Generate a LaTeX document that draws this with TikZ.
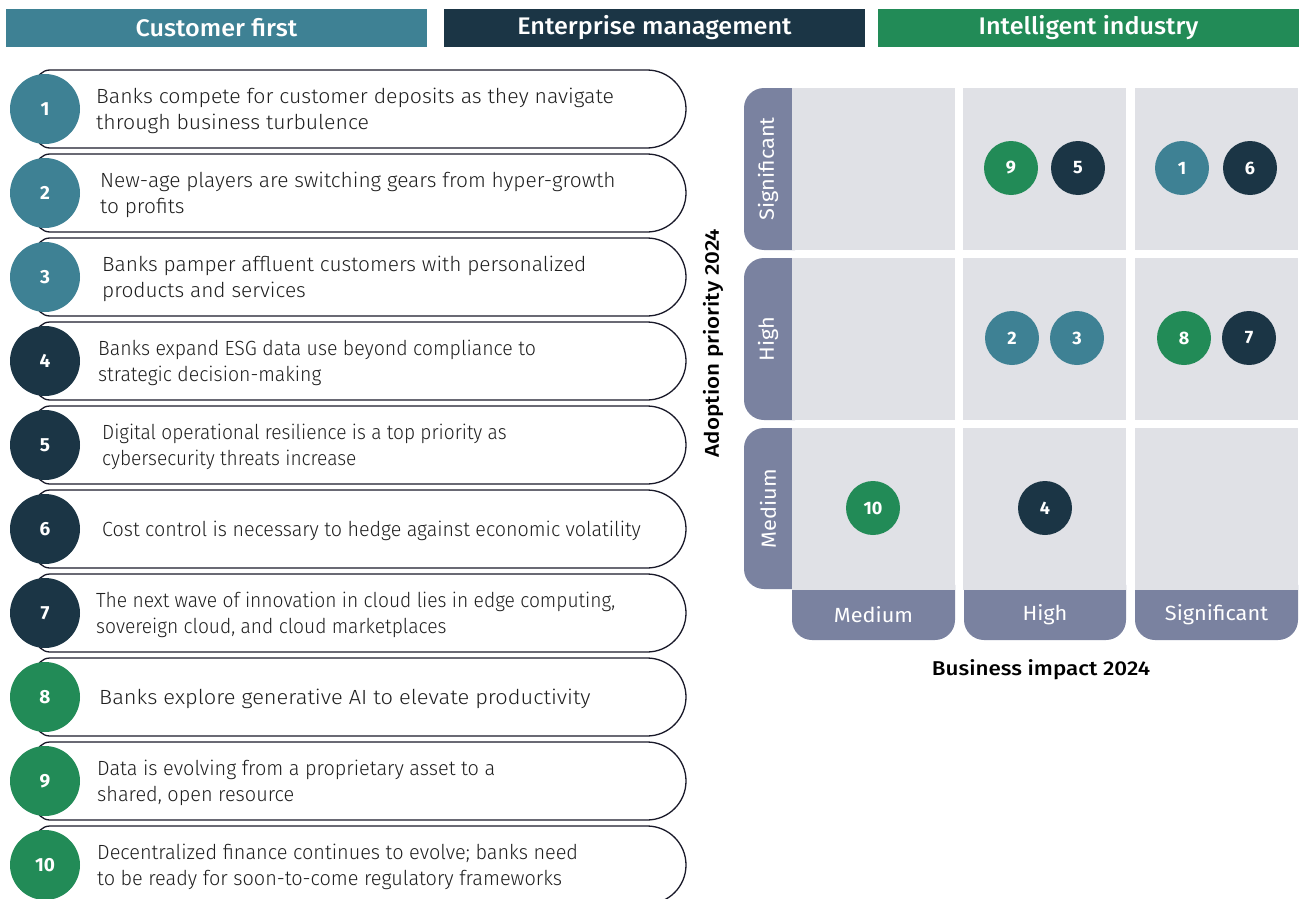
\documentclass[tikz,border=0pt]{standalone}
\usepackage{fontspec}
\setmainfont{Fira Sans}
\newfontfamily\lightfont{Fira Sans Light}
\newfontfamily\medfont{Fira Sans Medium}
\newcommand{\hsc}[2]{\scalebox{#1}[1]{#2}}
\newcommand{\lns}[1]{\begin{tabular}{@{}l@{}}#1\end{tabular}}
\definecolor{teal}{HTML}{3E8194}
\definecolor{navy}{HTML}{1B3545}
\definecolor{grn}{HTML}{228B57}
\definecolor{tabc}{HTML}{7A82A0}
\definecolor{cellc}{HTML}{E0E1E6}
\definecolor{pillc}{HTML}{1A1A2A}
\tikzset{
  hdr/.style={minimum width=421pt, minimum height=38pt, inner sep=0pt, text=white, font=\medfont\fontsize{24}{28}\selectfont},
  numc/.style={circle, minimum size=70pt, inner sep=0pt, text=white, font=\bfseries\fontsize{19}{22}\selectfont},
  itemtext/.style={anchor=west, align=left, inner sep=0pt, font=\lightfont\fontsize{20.5}{26}\selectfont, text=black!88},
  pill/.style={draw=pillc, line width=1.3pt, fill=white},
  cell/.style={fill=cellc, minimum width=163pt, minimum height=162pt, inner sep=0pt},
  tablbl/.style={text=white, font=\fontsize{20.5}{24}\selectfont, inner sep=0pt},
  bub/.style={circle, minimum size=54pt, inner sep=0pt, text=white, font=\bfseries\fontsize{18}{20}\selectfont},
  axis/.style={font=\medfont\fontsize{20}{24}\selectfont, text=black, inner sep=0pt}
}
\begin{document}
\begin{tikzpicture}[x=1pt,y=-1pt]
\useasboundingbox (0,0) rectangle (1301,899);
% headers
\node[hdr, fill=teal] (h1) at (216.5,28) {\hsc{1.05}{Customer first}};
\node[hdr, fill=navy] (h2) at (654.5,28) {\hsc{1.05}{Enterprise management}};
\node[hdr, fill=grn] (h3) at (1088.5,28) {\hsc{1.05}{Intelligent industry}};
% list items
\foreach \i/\col/\tx/\sx/\txt in {
 1/teal/96/1.037/{Banks compete for customer deposits as they navigate\\through business turbulence},
 2/teal/100/1.018/{New-age players are switching gears from hyper-growth\\to profits},
 3/teal/102/1.018/{Banks pamper affluent customers with personalized\\products and services},
 4/navy/98/0.951/{Banks expand ESG data use beyond compliance to\\strategic decision-making},
 5/navy/102/0.932/{Digital operational resilience is a top priority as\\cybersecurity threats increase},
 6/navy/102/0.96/{Cost control is necessary to hedge against economic volatility},
 7/navy/96/0.937/{The next wave of innovation in cloud lies in edge computing,\\sovereign cloud, and cloud marketplaces},
 8/grn/99/1.065/{Banks explore generative AI to elevate productivity},
 9/grn/97/0.97/{Data is evolving from a proprietary asset to a\\shared, open resource},
 10/grn/97/0.97/{Decentralized finance continues to evolve; banks need\\to be ready for soon-to-come regulatory frameworks}}{
  \pgfmathsetmacro{\cy}{109+84*(\i-1)}
  \draw[pill] (647,\cy-39) [rounded corners=14pt] -- (36,\cy-39) -- (36,\cy+39) [sharp corners] -- (647,\cy+39) arc[start angle=-90, end angle=90, radius=39pt] -- cycle;
  \node[numc, fill=\col] (n\i) at (45,\cy) {\i};
  \node[itemtext] (t\i) at (\tx,\cy+2) {\hsc{\sx}{\lns{\txt}}};
}
% matrix tabs (rows)
\foreach \r/\ya/\yb in {1/88/250, 2/258/420, 3/428/589}{
  \fill[tabc, rounded corners=20pt] (744,\ya) rectangle (815,\yb);
}
% column tabs
\foreach \c/\xa/\xb in {1/792/955, 2/964/1126, 3/1135/1298}{
  \fill[tabc, rounded corners=20pt] (\xa,565) rectangle (\xb,640);
}
% cells
\foreach \r/\cy in {1/169, 2/339, 3/508.5}{
  \foreach \c/\cx in {1/873.5, 2/1044.5, 3/1216.5}{
    \node[cell] (c\r\c) at (\cx,\cy) {};
  }
}
% row labels
\node[tablbl, rotate=90] (rl1) at (768,169) {\hsc{1.06}{Significant}};
\node[tablbl, rotate=90] (rl2) at (768,339) {\hsc{1.06}{High}};
\node[tablbl, rotate=90] (rl3) at (768,508.5) {\hsc{1.06}{Medium}};
% column labels
\node[tablbl] (cl1) at (873.5,615) {\hsc{1.06}{Medium}};
\node[tablbl] (cl2) at (1045,615) {\hsc{1.06}{High}};
\node[tablbl] (cl3) at (1216.5,615) {\hsc{1.06}{Significant}};
% axis titles
\node[axis, rotate=90] (ya) at (713,343) {\hsc{1.12}{Adoption priority 2024}};
\node[axis] (xa) at (1041,670) {\hsc{1.12}{Business impact 2024}};
% bubbles
\node[bub, fill=grn] (b9) at (1011,168) {9};
\node[bub, fill=navy] (b5) at (1078,168) {5};
\node[bub, fill=teal] (b1) at (1182,168) {1};
\node[bub, fill=navy] (b6) at (1250,168) {6};
\node[bub, fill=teal] (b2) at (1012,338) {2};
\node[bub, fill=teal] (b3) at (1077,338) {3};
\node[bub, fill=grn] (b8) at (1184,338) {8};
\node[bub, fill=navy] (b7) at (1249,338) {7};
\node[bub, fill=grn] (b10) at (873,508) {10};
\node[bub, fill=navy] (b4) at (1045,508) {4};
\end{tikzpicture}
\end{document}
